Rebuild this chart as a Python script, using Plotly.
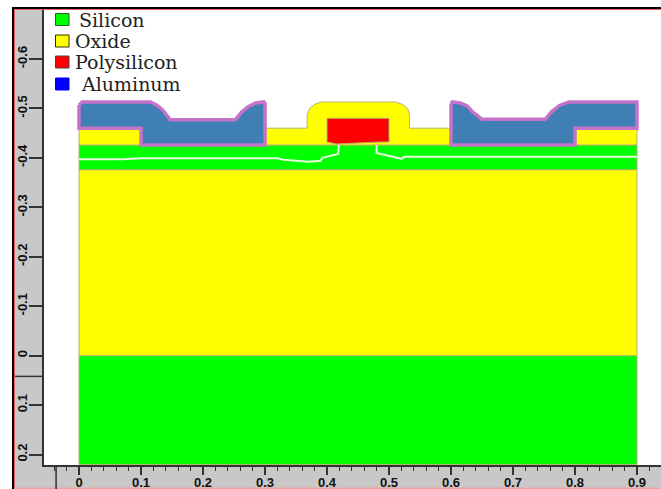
"""Device cross-section: material regions drawn on microns axes."""

import plotly.graph_objects as go

# ==========================================================
# REGION OUTLINES (microns)
# ==========================================================

silicon_bottom_x = [0, 0.9, 0.9, 0, 0]
silicon_bottom_y = [0, 0, 0.22, 0.22, 0]

oxide_buried_x = [0, 0.9, 0.9, 0, 0]
oxide_buried_y = [-0.376, -0.376, 0, 0, -0.376]

silicon_top_x = [0, 0.9, 0.9, 0, 0]
silicon_top_y = [-0.426, -0.426, -0.376, -0.376, -0.426]

oxide_left_x = [0, 0.1, 0.1, 0, 0]
oxide_left_y = [-0.46, -0.46, -0.426, -0.426, -0.46]

oxide_right_x = [0.8, 0.9, 0.9, 0.8, 0.8]
oxide_right_y = [-0.46, -0.46, -0.426, -0.426, -0.46]

oxide_gate_x = [0.3, 0.368, 0.368, 0.372, 0.38, 0.39, 0.51, 0.522, 0.53, 0.533, 0.533,
                0.6, 0.6, 0.3, 0.3]
oxide_gate_y = [-0.46, -0.46, -0.487, -0.5, -0.508, -0.513, -0.513, -0.508, -0.5, -0.487, -0.46,
                -0.46, -0.426, -0.426, -0.46]

poly_x = [0.4, 0.5, 0.5, 0.485, 0.415, 0.4, 0.4]
poly_y = [-0.48, -0.48, -0.432, -0.432, -0.428, -0.432, -0.48]

alum_left_x = [0, 0.005, 0.115, 0.125, 0.135, 0.147, 0.252, 0.262, 0.272, 0.285, 0.298, 0.3,
               0.3, 0.1, 0.1, 0, 0]
alum_left_y = [-0.507, -0.513, -0.513, -0.507, -0.497, -0.477, -0.477, -0.492, -0.503, -0.511, -0.513, -0.51,
               -0.426, -0.426, -0.46, -0.46, -0.507]

alum_right_x = [0.6, 0.602, 0.615, 0.626, 0.635, 0.65, 0.752, 0.762, 0.775, 0.79, 0.9,
                0.9, 0.8, 0.8, 0.6, 0.6]
alum_right_y = [-0.51, -0.513, -0.511, -0.505, -0.493, -0.478, -0.478, -0.493, -0.506, -0.513, -0.513,
                -0.46, -0.46, -0.426, -0.426, -0.51]

junction_left_x = [0, 0.07, 0.1, 0.32, 0.33, 0.37, 0.39, 0.392, 0.418, 0.419]
junction_left_y = [-0.397, -0.397, -0.399, -0.399, -0.396, -0.392, -0.394, -0.40, -0.408, -0.426]

junction_right_x = [0.48, 0.48, 0.52, 0.525, 0.9]
junction_right_y = [-0.426, -0.41, -0.398, -0.402, -0.402]

legend_names = ["Silicon", "Oxide", "Polysilicon", "Aluminum"]
legend_colors = ["#00ff00", "#ffff00", "#ff0000", "#0000ff"]
legend_edges = ["#2a5a2a", "#333300", "#444444", "#0000ff"]

x_ticks = [0, 0.1, 0.2, 0.3, 0.4, 0.5, 0.6, 0.7, 0.8, 0.9]
y_ticks = [-0.6, -0.5, -0.4, -0.3, -0.2, -0.1, 0, 0.1, 0.2]
y_labels = ["-0.6", "-0.5", "-0.4", "-0.3", "-0.2", "-0.1", "0", "0.1", "0.2"]

# ==========================================================
# COLOURS AND PAGE LAYOUT
# ==========================================================

GREEN = "#00ff00"
YELLOW = "#ffff00"
RED = "#ff0000"
STEEL = "#3f7fb3"
PINK = "#c473c8"
EDGE = "#b3b36b"
FRAME_GREY = "#c8c8c8"
AXIS_DARK = "#333333"

WIDTH, HEIGHT = 661, 489
LEFT, TOP, BOTTOM = 44, 10, 24
PLOT_W = WIDTH - LEFT
PLOT_H = HEIGHT - TOP - BOTTOM

# Legend placement in page pixels: text left edge, row centre
LEGEND_TEXT_X = [78, 74, 74, 80]
LEGEND_ROW_Y = [19.5, 41, 62, 84]


def px_x(px):
    return (px - LEFT) / PLOT_W


def px_y(py):
    return 1 - (py - TOP) / PLOT_H


def page_rect(x0, y0, x1, y1, colour):
    return dict(
        type="rect", xref="paper", yref="paper",
        x0=px_x(x0), x1=px_x(x1), y0=px_y(y0), y1=px_y(y1),
        fillcolor=colour, line_width=0
    )


fig = go.Figure()


def add_region(xs, ys, fill, edge=EDGE, width=1):
    fig.add_trace(
        go.Scatter(
            x=xs,
            y=ys,
            mode="lines",
            fill="toself",
            fillcolor=fill,
            line=dict(color=edge, width=width),
            showlegend=False,
            hoverinfo="skip"
        )
    )


add_region(silicon_bottom_x, silicon_bottom_y, GREEN)
add_region(oxide_buried_x, oxide_buried_y, YELLOW)
add_region(silicon_top_x, silicon_top_y, GREEN)
add_region(oxide_left_x, oxide_left_y, YELLOW)
add_region(oxide_right_x, oxide_right_y, YELLOW)
add_region(oxide_gate_x, oxide_gate_y, YELLOW)
add_region(poly_x, poly_y, RED)
add_region(alum_left_x, alum_left_y, STEEL, PINK, 3.5)
add_region(alum_right_x, alum_right_y, STEEL, PINK, 3.5)

# Junction lines in the top silicon
for xs, ys in [(junction_left_x, junction_left_y), (junction_right_x, junction_right_y)]:
    fig.add_trace(
        go.Scatter(
            x=xs,
            y=ys,
            mode="lines",
            line=dict(color="#e8f8e0", width=2),
            showlegend=False,
            hoverinfo="skip"
        )
    )

shapes = [
    # White page outside the frame, then black and red frame lines
    page_rect(0, 0, WIDTH, 7, "white"),
    page_rect(0, 0, 12, HEIGHT, "white"),
    page_rect(12, 7, WIDTH, 9, "black"),
    page_rect(12, 7, 14, HEIGHT, "black"),
    page_rect(14, 9, WIDTH, 10, "#f06060"),
    page_rect(14, 9, 15, HEIGHT, "#f06060"),
    page_rect(14, 487.5, WIDTH, HEIGHT, "#f4a0a0"),
    # Long end ticks on each axis
    dict(type="line", xref="x", yref="paper", x0=-0.037, x1=-0.037, y0=px_y(HEIGHT), y1=0,
         line=dict(color=AXIS_DARK, width=1.5)),
    dict(type="line", xref="paper", yref="y", x0=px_x(15), x1=0, y0=0.042, y1=0.042,
         line=dict(color=AXIS_DARK, width=1.5)),
]

annotations = []
for name, colour, edge, text_x, row_y in zip(
        legend_names, legend_colors, legend_edges, LEGEND_TEXT_X, LEGEND_ROW_Y):
    shapes.append(
        dict(type="rect", xref="paper", yref="paper",
             x0=px_x(55.5), x1=px_x(69), y0=px_y(row_y - 6), y1=px_y(row_y + 6),
             fillcolor=colour, line=dict(color=edge, width=1))
    )
    annotations.append(
        dict(x=px_x(text_x), y=px_y(row_y), xref="paper", yref="paper",
             text=name, showarrow=False, xanchor="left", yanchor="middle",
             xshift=-1,
             font=dict(family="DejaVu Serif", size=19, color="#222222"))
    )

fig.update_layout(
    width=WIDTH,
    height=HEIGHT,
    autosize=False,
    margin=dict(l=LEFT, r=0, t=TOP, b=BOTTOM, autoexpand=False),
    paper_bgcolor=FRAME_GREY,
    plot_bgcolor="white",
    showlegend=False,
    xaxis=dict(
        automargin=False,
        range=[-0.0565, 0.9387],
        tickvals=x_ticks,
        ticks="outside",
        ticklen=8,
        tickwidth=2,
        ticklabelstandoff=-4,
        tickcolor=AXIS_DARK,
        showgrid=False,
        zeroline=False,
        showline=True,
        linecolor=AXIS_DARK,
        linewidth=2,
        minor=dict(dtick=0.02, tick0=0, ticks="outside", ticklen=4, tickwidth=1, tickcolor=AXIS_DARK, showgrid=False),
        tickfont=dict(family="Liberation Sans", size=13, color="#111111", weight="bold")
    ),
    yaxis=dict(
        automargin=False,
        range=[0.2212, -0.699],
        tickvals=y_ticks,
        ticktext=y_labels,
        ticks="outside",
        ticklen=13,
        tickwidth=1.5,
        ticklabelstandoff=-3,
        tickcolor=AXIS_DARK,
        tickangle=-90,
        showgrid=False,
        zeroline=False,
        showline=True,
        linecolor=AXIS_DARK,
        linewidth=2,
        tickfont=dict(family="Liberation Sans", size=13, color="#111111", weight="bold")
    ),
    shapes=shapes,
    annotations=annotations
)

fig.write_html(
    "out.html",
    config=dict(displayModeBar=False),
    post_script="document.body.style.margin='0';"
)
